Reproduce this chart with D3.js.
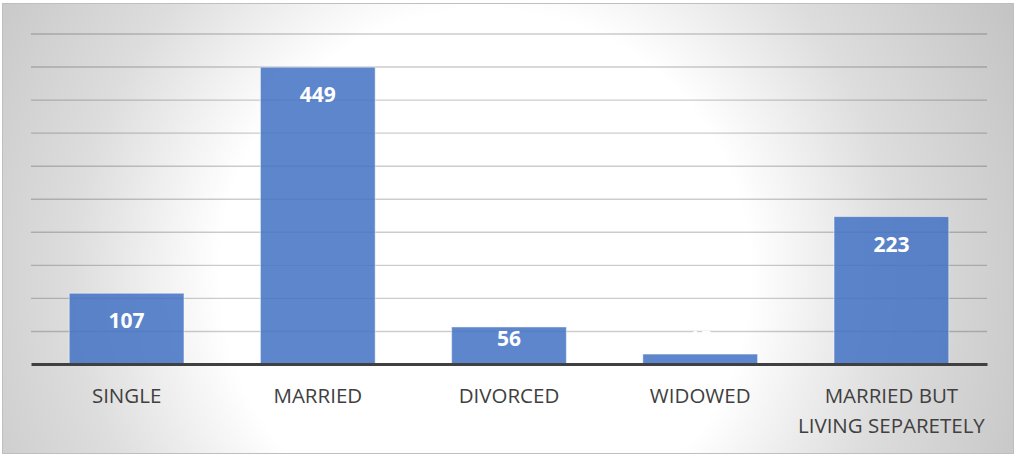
<!DOCTYPE html>
<html>
<head>
<meta charset="utf-8">
<script src="https://cdn.jsdelivr.net/npm/d3@7"></script>
<style>
  html, body { margin: 0; padding: 0; background: #ffffff; }
  svg { display: block; }
</style>
</head>
<body>
<svg id="chart" width="1016" height="456"></svg>
<script>
// ---- data ----
const categories = ["SINGLE", "MARRIED", "DIVORCED", "WIDOWED", "MARRIED BUT LIVING SEPARETELY"];
const counts = [107, 449, 56, 15, 223];
const yDomain = [0, 500];
const yTickStep = 50;

// ---- layout ----
const W = 1016, H = 456;
const plot = { left: 31, right: 987, top: 33.5, bottom: 364 };

const svg = d3.select("#chart");
const defs = svg.append("defs");

const grad = defs.append("radialGradient")
  .attr("id", "bg")
  .attr("gradientUnits", "userSpaceOnUse")
  .attr("cx", 485).attr("cy", 275).attr("r", 590)
  .attr("fx", 485).attr("fy", 275);
grad.append("stop").attr("offset", "0").attr("stop-color", "#ffffff");
grad.append("stop").attr("offset", "0.45").attr("stop-color", "#ffffff");
grad.append("stop").attr("offset", "0.70").attr("stop-color", "#dddddd");
grad.append("stop").attr("offset", "1").attr("stop-color", "#c4c4c4");

// chart area background + border
svg.append("rect")
  .attr("x", 2.5).attr("y", 3.5)
  .attr("width", W - 5).attr("height", H - 6)
  .attr("fill", "url(#bg)")
  .attr("stroke", "#bfbfbf")
  .attr("stroke-width", 1);

const x = d3.scaleBand()
  .domain(categories)
  .range([plot.left, plot.right])
  .paddingInner(0.4)
  .paddingOuter(0.2);

const y = d3.scaleLinear()
  .domain(yDomain)
  .range([plot.bottom, plot.top]);

const yTicks = d3.range(yDomain[0] + yTickStep, yDomain[1] + 1, yTickStep);

// gridlines
const grid = svg.append("g")
  .attr("transform", `translate(${plot.left},0)`)
  .call(d3.axisLeft(y).tickValues(yTicks).tickSize(-(plot.right - plot.left)).tickFormat(""));
grid.select(".domain").remove();
grid.selectAll(".tick line")
  .attr("stroke", "#000")
  .attr("stroke-opacity", 0.2)
  .attr("stroke-width", 1.4);

// bars
svg.append("g").selectAll("rect")
  .data(categories)
  .join("rect")
  .attr("x", d => x(d))
  .attr("y", (d, i) => y(counts[i]))
  .attr("width", x.bandwidth())
  .attr("height", (d, i) => y(0) - y(counts[i]))
  .attr("fill", "#4472C4")
  .attr("fill-opacity", 0.86)
  .attr("stroke", "#ffffff")
  .attr("stroke-opacity", 0.45)
  .attr("stroke-width", 1);

// baseline (category axis)
const xAxis = svg.append("g")
  .attr("transform", `translate(0,${plot.bottom})`)
  .call(d3.axisBottom(x).tickSize(0).tickPadding(0));
xAxis.select(".domain")
  .attr("stroke", "#404040")
  .attr("stroke-width", 3);

// category labels with balanced two-line wrapping when too wide
xAxis.selectAll(".tick text")
  .attr("font-family", "'Open Sans', sans-serif")
  .attr("font-size", 20.5)
  .attr("fill", "#404040")
  .attr("y", 0)
  .attr("dy", null)
  .each(function(d) {
    const t = d3.select(this);
    const words = d.split(/\s+/);
    const maxW = x.step() * 0.95;
    t.text(null);
    const probe = t.append("tspan");
    const measure = s => { probe.text(s); return probe.node().getComputedTextLength(); };
    let lines = [d];
    if (measure(d) > maxW && words.length > 1) {
      let best = null, bestW = Infinity;
      for (let k = 1; k < words.length; k++) {
        const a = words.slice(0, k).join(" "), b = words.slice(k).join(" ");
        const w = Math.max(measure(a), measure(b));
        if (w < bestW) { bestW = w; best = [a, b]; }
      }
      lines = best;
    }
    probe.remove();
    lines.forEach((l, k) => {
      t.append("tspan")
        .attr("x", 0)
        .attr("y", 39 + k * 30)
        .text(l);
    });
  });

// value labels
svg.append("g").selectAll("text")
  .data(categories)
  .join("text")
  .attr("x", d => x(d) + x.bandwidth() / 2)
  .attr("y", (d, i) => Math.min(y(counts[i]) + 35, y(0) - 18))
  .attr("text-anchor", "middle")
  .attr("font-family", "'Open Sans', sans-serif")
  .attr("font-weight", "bold")
  .attr("font-size", 21)
  .attr("fill", "#ffffff")
  .text((d, i) => counts[i]);
</script>
</body>
</html>
